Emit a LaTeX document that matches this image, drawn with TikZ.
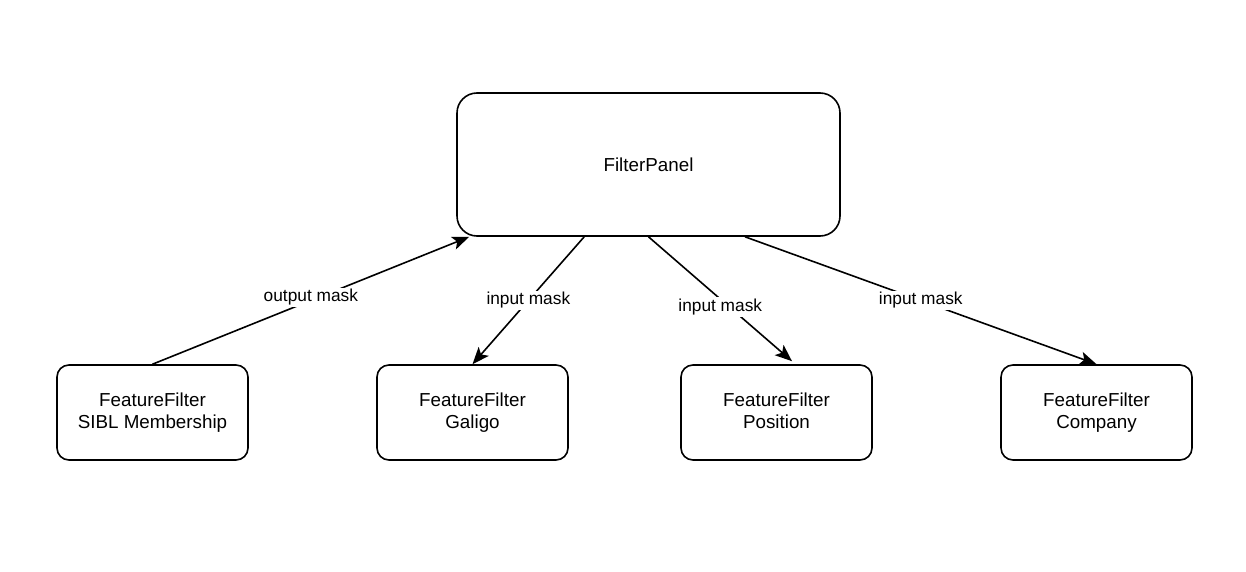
\documentclass[tikz,border=0pt]{standalone}
\usepackage{fontspec}
\setmainfont{Liberation Sans}
\usetikzlibrary{arrows.meta}
\begin{document}
\begin{tikzpicture}[x=1pt,y=1pt,
  box/.style={draw, line width=1.6pt, rounded corners=12pt, minimum width=191pt, minimum height=95pt, align=center, inner sep=0pt, font=\fontsize{18.8}{22}\selectfont},
  panel/.style={draw, line width=1.6pt, rounded corners=20pt, minimum width=383pt, minimum height=143pt, align=center, inner sep=0pt, font=\fontsize{18.8}{22}\selectfont},
  conn/.style={line width=1.6pt, -{Stealth[length=17pt,width=13.5pt,inset=4pt]}},
  lbl/.style={fill=white, inner sep=1.5pt, font=\fontsize{17.3}{20}\selectfont}]
\useasboundingbox (0,0) rectangle (1246,-572);
\node[panel] (fp) at (648.5,-164.5) {FilterPanel};
\node[box] (b1) at (152.5,-412.5) {FeatureFilter\\SIBL Membership};
\node[box] (b2) at (472.5,-412.5) {FeatureFilter\\Galigo};
\node[box] (b3) at (776.5,-412.5) {FeatureFilter\\Position\vphantom{p}};
\node[box] (b4) at (1096.5,-412.5) {FeatureFilter\\Company};
\coordinate (fpA) at ([xshift=13pt]fp.south west);
\coordinate (fpB) at ([xshift=128pt]fp.south west);
\coordinate (fpC) at (fp.south);
\coordinate (fpD) at ([xshift=96.5pt]fp.south);
\coordinate (b3t) at ([xshift=15.5pt,yshift=3pt]b3.north);
\draw[conn] (b1.north) -- node[lbl, yshift=3pt] {output mask} (fpA);
\draw[conn] (fpB) -- node[lbl] {input mask} (b2.north);
\draw[conn] (fpC) -- node[lbl, yshift=-8pt] {input mask} (b3t);
\draw[conn] (fpD) -- node[lbl] {input mask} (b4.north);
\end{tikzpicture}
\end{document}
